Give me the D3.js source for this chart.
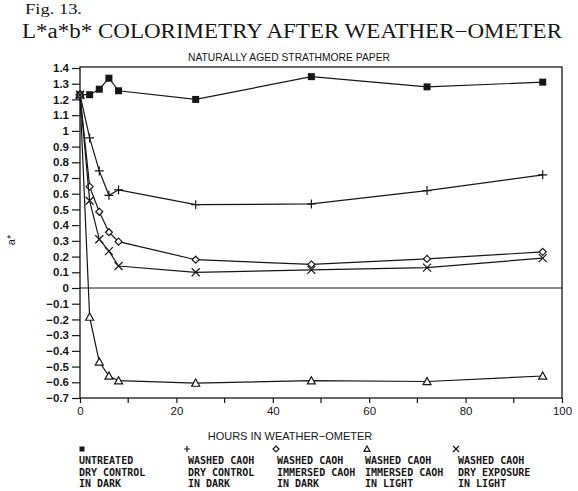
<!DOCTYPE html>
<html><head><meta charset="utf-8">
<script src="https://cdn.jsdelivr.net/npm/d3@7/dist/d3.min.js"></script>
<style>body{margin:0;background:#fff}svg{display:block}</style>
</head><body>
<svg id="c" width="578" height="491"></svg>
<script>
const hours = [0, 2, 4, 6, 8, 24, 48, 72, 96];
const untreated = [1.23, 1.23, 1.265, 1.335, 1.255, 1.20, 1.345, 1.28, 1.31];
const washedDry = [1.23, 0.955, 0.745, 0.59, 0.625, 0.53, 0.535, 0.62, 0.72];
const washedImmDark = [1.23, 0.645, 0.485, 0.355, 0.295, 0.18, 0.15, 0.185, 0.23];
const washedImmLight = [1.23, -0.185, -0.47, -0.56, -0.59, -0.605, -0.59, -0.595, -0.56];
const washedDryLight = [1.23, 0.555, 0.31, 0.235, 0.14, 0.10, 0.115, 0.13, 0.19];
const seriesNames = [
  ["UNTREATED", "DRY CONTROL", "IN DARK"],
  ["WASHED CAOH", "DRY CONTROL", "IN DARK"],
  ["WASHED CAOH", "IMMERSED CAOH", "IN DARK"],
  ["WASHED CAOH", "IMMERSED CAOH", "IN LIGHT"],
  ["WASHED CAOH", "DRY EXPOSURE", "IN LIGHT"]
];
const markers = ["square", "plus", "diamond", "triangle", "cross"];
const yTicks = [1.4,1.3,1.2,1.1,1,0.9,0.8,0.7,0.6,0.5,0.4,0.3,0.2,0.1,0,-0.1,-0.2,-0.3,-0.4,-0.5,-0.6,-0.7];
const xTicks = [0,20,40,60,80,100];
const xMinor = [10,30,50,70,90];

const svg = d3.select("#c");
const ink = "#161616";
const L = 80, R = 562, T = 67, B = 398;
const x = d3.scaleLinear().domain([0,100]).range([L, R]);
const y = d3.scaleLinear().domain([-0.7,1.4]).range([B, T+1]);

// titles
svg.append("text").attr("x",25).attr("y",14).attr("font-family","Liberation Serif, serif")
  .attr("font-size",15).attr("textLength",57).attr("lengthAdjust","spacingAndGlyphs").attr("fill",ink).text("Fig. 13.");
svg.append("text").attr("x",22).attr("y",38).attr("font-family","Liberation Serif, serif")
  .attr("font-size",20).attr("textLength",540).attr("lengthAdjust","spacingAndGlyphs").attr("fill",ink)
  .text("L*a*b* COLORIMETRY AFTER WEATHER\u2212OMETER");
svg.append("text").attr("x",188).attr("y",61).attr("font-family","Liberation Sans, Arial, sans-serif")
  .attr("font-size",11).attr("textLength",202).attr("lengthAdjust","spacingAndGlyphs").attr("fill",ink)
  .text("NATURALLY AGED STRATHMORE PAPER");

// frame
const g = svg.append("g");
g.append("rect").attr("x",L).attr("y",T).attr("width",R-L).attr("height",B-T)
  .attr("fill","none").attr("stroke",ink).attr("stroke-width",1.3);
g.append("line").attr("x1",L).attr("x2",R).attr("y1",y(0)).attr("y2",y(0)).attr("stroke",ink).attr("stroke-width",1.2);

// y axis
const yAxis = d3.axisLeft(y).tickValues(yTicks).tickSize(8).tickPadding(3)
  .tickFormat(d => d < 0 ? "\u2212" + d3.format("")(Math.abs(+d.toFixed(1))) : d3.format("")(+d.toFixed(1)));
const ya = svg.append("g").attr("transform",`translate(${L},0)`).call(yAxis);
ya.select(".domain").remove();
ya.selectAll("line").attr("stroke",ink).attr("stroke-width",1.2);
ya.selectAll("text").attr("font-family","Liberation Sans, Arial, sans-serif").attr("font-size",11.5).attr("font-weight","bold").attr("fill",ink);

// x axis
const xAxis = d3.axisBottom(x).tickValues(xTicks).tickSize(5).tickPadding(4).tickFormat(d3.format("d"));
const xa = svg.append("g").attr("transform",`translate(0,${B})`).call(xAxis);
xa.select(".domain").remove();
xa.selectAll("line").attr("stroke",ink).attr("stroke-width",1.2);
xa.selectAll("text").attr("font-family","Liberation Sans, Arial, sans-serif").attr("font-size",11.5).attr("fill",ink);
svg.append("g").selectAll("line").data(xMinor).join("line")
  .attr("x1",d=>x(d)).attr("x2",d=>x(d)).attr("y1",B).attr("y2",B+5).attr("stroke",ink).attr("stroke-width",1.2);

svg.append("text").attr("transform","translate(15,240) rotate(-90)").attr("text-anchor","middle")
  .attr("font-family","Liberation Sans, Arial, sans-serif").attr("font-size",11).attr("fill",ink).text("a*");

svg.append("text").attr("x",290).attr("y",440).attr("text-anchor","middle")
  .attr("font-family","Liberation Sans, Arial, sans-serif").attr("font-size",11).attr("fill",ink)
  .text("HOURS IN WEATHER\u2212OMETER");

// markers
function drawMarker(sel, type, cx, cy, s) {
  const h = s/2;
  if (type === "square") {
    sel.append("rect").attr("x",cx-h).attr("y",cy-h).attr("width",s).attr("height",s).attr("fill",ink);
  } else if (type === "plus") {
    sel.append("path").attr("d",`M${cx-h},${cy}H${cx+h}M${cx},${cy-h}V${cy+h}`).attr("stroke",ink).attr("stroke-width",1.2).attr("fill","none");
  } else if (type === "diamond") {
    sel.append("path").attr("d",`M${cx},${cy-h}L${cx+h},${cy}L${cx},${cy+h}L${cx-h},${cy}Z`).attr("stroke",ink).attr("stroke-width",1.2).attr("fill","#fff");
  } else if (type === "triangle") {
    sel.append("path").attr("d",`M${cx},${cy-h}L${cx+h},${cy+h*0.8}L${cx-h},${cy+h*0.8}Z`).attr("stroke",ink).attr("stroke-width",1.2).attr("fill","#fff");
  } else if (type === "cross") {
    sel.append("path").attr("d",`M${cx-h},${cy-h}L${cx+h},${cy+h}M${cx-h},${cy+h}L${cx+h},${cy-h}`).attr("stroke",ink).attr("stroke-width",1.2).attr("fill","none");
  }
}
const sizes = {square:7, plus:9, diamond:7, triangle:8, cross:8};

const allSeries = [untreated, washedDry, washedImmDark, washedImmLight, washedDryLight];
const line = d3.line().x((d,i)=>x(hours[i])).y(d=>y(d));
allSeries.forEach((vals, si) => {
  const sg = svg.append("g");
  sg.append("path").datum(vals).attr("d",line).attr("fill","none").attr("stroke",ink).attr("stroke-width",1.2);
  vals.forEach((v,i) => drawMarker(sg, markers[si], x(hours[i]), y(v), sizes[markers[si]]));
});

// legend
const legX = [79, 188, 277, 365, 458];
const legSym = [82, 187, 276, 367, 456];
seriesNames.forEach((lines, i) => {
  const lg = svg.append("g");
  drawMarker(lg, markers[i], legSym[i], 449, markers[i]==="square"?5:6);
  lines.forEach((t, j) => {
    lg.append("text").attr("x",legX[i]).attr("y",464 + j*11.5)
      .attr("font-family","DejaVu Sans Mono, monospace").attr("font-size",10).attr("font-weight","bold").attr("fill",ink).text(t);
  });
});
</script>
</body></html>
